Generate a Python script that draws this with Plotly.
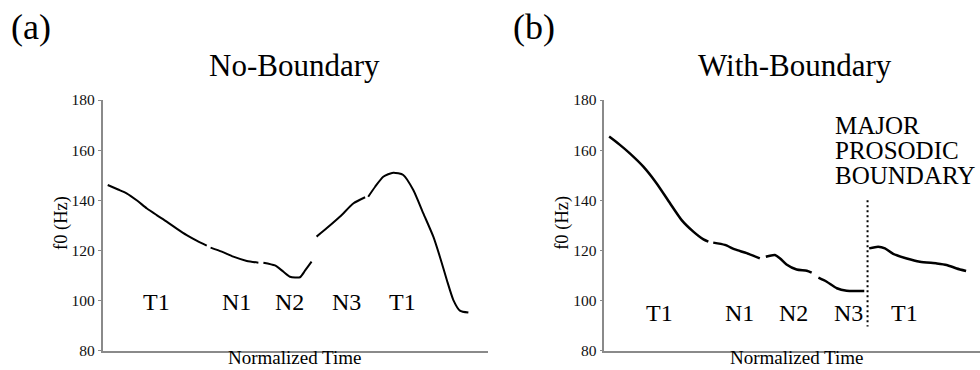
import plotly.graph_objects as go

# f0 contours over normalized time (0 = start, 1 = end); None separates syllables
nb_time = [0.013, 0.040, 0.062, 0.090, 0.114, 0.140, 0.166, 0.192, 0.218, 0.245, 0.270, None,
           0.280, 0.309, 0.339, 0.374, 0.404, None,
           0.417, 0.447, 0.469, 0.486, 0.512, 0.525, 0.542, None,
           0.555, 0.581, 0.616, 0.651, 0.681, None,
           0.689, 0.707, 0.728, 0.754, 0.780, 0.806, 0.832, 0.858, 0.875, 0.893, 0.910, 0.927, 0.949]
nb_f0 = [146.1, 144.3, 142.8, 139.8, 136.8, 134.1, 131.5, 128.7, 126.1, 123.8, 121.9, None,
         121.1, 119.5, 117.5, 115.8, 115.1, None,
         115.1, 114.0, 111.5, 109.5, 109.3, 111.9, 115.5, None,
         125.5, 128.8, 133.5, 138.8, 141.2, None,
         141.4, 145.4, 149.4, 151.0, 150.1, 144.1, 134.8, 125.5, 117.5, 108.2, 100.2, 96.0, 95.2]

wb_time = [0.013, 0.040, 0.068, 0.104, 0.139, 0.175, 0.206, 0.237, 0.264, 0.277, None,
           0.290, 0.321, 0.348, 0.379, 0.414, None,
           0.430, 0.454, 0.468, 0.485, 0.512, 0.539, 0.552, None,
           0.570, 0.592, 0.619, 0.645, 0.672, 0.692, None,
           0.705, 0.729, 0.747, 0.769, 0.805, 0.840, 0.885, 0.911, 0.938, 0.963]
wb_f0 = [165.4, 162.3, 158.7, 153.4, 146.8, 138.8, 132.1, 127.5, 124.4, 123.5, None,
         123.1, 122.2, 120.4, 118.9, 116.8, None,
         117.5, 118.2, 116.8, 114.4, 112.4, 111.9, 111.1, None,
         109.1, 107.5, 104.9, 103.9, 103.8, 103.8, None,
         120.8, 121.5, 120.8, 118.6, 116.8, 115.5, 114.8, 114.2, 112.8, 111.8]

# syllable labels and their positions along the time axis
syllables = ["T1", "N1", "N2", "N3", "T1"]
nb_label_time = [0.140, 0.348, 0.484, 0.633, 0.779]
wb_label_time = [0.148, 0.361, 0.503, 0.651, 0.800]
nb_label_f0 = 99.6
wb_label_f0 = 94.9

# prosodic boundary marker
boundary_time = 0.7007
boundary_f0 = [140.0, 89.6]
boundary_text = ["MAJOR", "PROSODIC", "BOUNDARY"]
boundary_text_f0 = [169.7, 159.8, 149.9]
boundary_text_time = 0.6085

y_ticks = [80, 100, 120, 140, 160, 180]

SERIF = "Liberation Serif, Times New Roman, serif"

fig = go.Figure()
fig.add_trace(go.Scatter(x=nb_time, y=nb_f0, mode="lines", xaxis="x", yaxis="y",
                         line=dict(color="black", width=2, shape="spline", smoothing=0.6),
                         connectgaps=False, hoverinfo="skip"))
fig.add_trace(go.Scatter(x=wb_time, y=wb_f0, mode="lines", xaxis="x2", yaxis="y2",
                         line=dict(color="black", width=2.5, shape="spline", smoothing=0.6),
                         connectgaps=False, hoverinfo="skip"))
fig.add_trace(go.Scatter(x=[boundary_time, boundary_time], y=boundary_f0, mode="lines",
                         xaxis="x2", yaxis="y2",
                         line=dict(color="black", width=2, dash="2px,3px"), hoverinfo="skip"))

axis_common = dict(showline=True, linecolor="#8a8a8a", linewidth=1.5, showgrid=False,
                   zeroline=False, automargin=False)
yaxis_common = dict(axis_common, range=[80, 180], tickvals=y_ticks, ticks="outside",
                    ticklen=3, tickcolor="#8a8a8a", tickwidth=1,
                    tickfont=dict(family=SERIF, size=15.5, color="#111"),
                    domain=[0.0522, 0.7297])
xaxis_common = dict(axis_common, range=[0, 1], showticklabels=False, ticks="")

annotations = []
for lab, t in zip(syllables, nb_label_time):
    annotations.append(dict(x=t, y=nb_label_f0, xref="x", yref="y", text=lab, showarrow=False,
                            xanchor="center", yanchor="middle",
                            font=dict(family=SERIF, size=24, color="black")))
for lab, t in zip(syllables, wb_label_time):
    annotations.append(dict(x=t, y=wb_label_f0, xref="x2", yref="y2", text=lab, showarrow=False,
                            xanchor="center", yanchor="middle",
                            font=dict(family=SERIF, size=24, color="black")))
for line, f in zip(boundary_text, boundary_text_f0):
    annotations.append(dict(x=boundary_text_time, y=f, xref="x2", yref="y2", text=line,
                            showarrow=False, xanchor="left", yanchor="middle",
                            font=dict(family=SERIF, size=25, color="black")))

# panel letters and titles
for txt, x, y, size in [("(a)", 0.0316, 0.927, 36), ("(b)", 0.545, 0.927, 36),
                        ("No-Boundary", 0.300, 0.824, 31), ("With-Boundary", 0.8117, 0.824, 31)]:
    annotations.append(dict(x=x, y=y, xref="paper", yref="paper", text=txt, showarrow=False,
                            xanchor="center", yanchor="middle",
                            font=dict(family=SERIF, size=size, color="black")))
# x-axis titles sit on the bottom edge
for x in [0.301, 0.813]:
    annotations.append(dict(x=x, y=0.0, xref="paper", yref="paper", text="Normalized Time",
                            showarrow=False, xanchor="center", yanchor="bottom",
                            font=dict(family=SERIF, size=19, color="black")))
for x in [0.063, 0.574]:
    annotations.append(dict(x=x, y=0.3965, xref="paper", yref="paper", text="f0 (Hz)",
                            textangle=-90, showarrow=False, xanchor="center", yanchor="middle",
                            font=dict(family=SERIF, size=18.5, color="black")))

fig.update_layout(
    width=980, height=370,
    margin=dict(l=0, r=0, t=0, b=0, pad=0),
    paper_bgcolor="white", plot_bgcolor="white",
    showlegend=False,
    xaxis=dict(xaxis_common, domain=[0.1048, 0.4980], anchor="y"),
    yaxis=dict(yaxis_common, anchor="x"),
    xaxis2=dict(xaxis_common, domain=[0.6166, 1.0], anchor="y2"),
    yaxis2=dict(yaxis_common, anchor="x2"),
    annotations=annotations,
)

fig.write_html("out.html")
